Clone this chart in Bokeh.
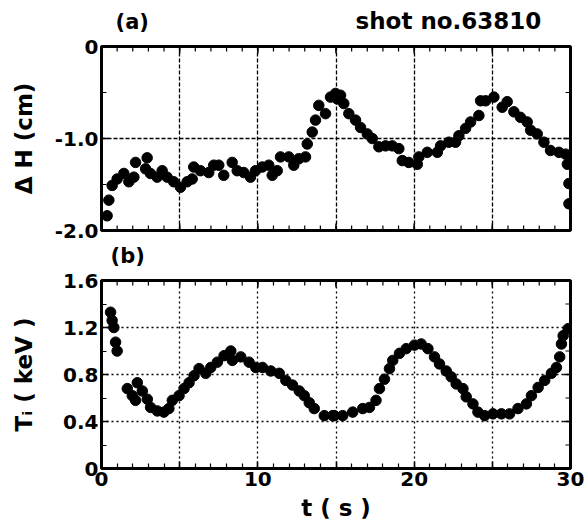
import math
from bokeh.plotting import figure
from bokeh.models import Range1d, FixedTicker, LinearAxis
from bokeh.core.properties import value
from bokeh.layouts import column
from bokeh.embed import file_html
from bokeh.resources import INLINE

# ---- data ----
t_dh = [0.36, 0.47, 0.68, 1.0, 1.43, 1.75, 2.07, 2.18, 2.82, 2.92, 3.13, 3.56, 3.88, 4.2,
        4.62, 5.05, 5.48, 5.8, 5.9, 6.33, 6.86, 7.18, 7.5, 7.82, 8.36, 8.68, 9.1, 9.53,
        9.85, 10.28, 10.7, 10.92, 11.24, 11.45, 11.98, 12.3, 12.62, 13.05, 13.16, 13.48,
        13.69, 13.9, 14.33, 14.65, 14.97, 15.08, 15.29, 15.5, 15.82, 16.25, 16.57, 17.0,
        17.32, 17.74, 18.17, 18.6, 19.02, 19.24, 19.66, 20.2, 20.3, 20.84, 21.48, 21.69,
        22.22, 22.65, 22.86, 23.29, 23.61, 24.14, 24.25, 24.57, 25.1, 25.63, 25.95, 26.38,
        26.8, 27.23, 27.45, 27.87, 28.3, 28.72, 29.26, 29.69, 29.8, 29.9, 29.9]
dh = [-1.84, -1.67, -1.51, -1.44, -1.38, -1.47, -1.42, -1.26, -1.33, -1.21, -1.38, -1.42,
      -1.35, -1.42, -1.47, -1.53, -1.47, -1.44, -1.31, -1.35, -1.37, -1.29, -1.29, -1.40,
      -1.26, -1.35, -1.37, -1.42, -1.35, -1.31, -1.29, -1.40, -1.35, -1.20, -1.20, -1.29,
      -1.22, -1.20, -1.06, -0.93, -0.80, -0.64, -0.73, -0.55, -0.51, -0.57, -0.53, -0.62,
      -0.73, -0.80, -0.88, -0.95, -1.00, -1.09, -1.08, -1.08, -1.11, -1.24, -1.26, -1.28,
      -1.20, -1.15, -1.15, -1.08, -1.04, -1.04, -0.97, -0.89, -0.82, -0.75, -0.59, -0.59,
      -0.55, -0.66, -0.60, -0.71, -0.77, -0.82, -0.91, -0.95, -1.04, -1.13, -1.15, -1.17,
      -1.28, -1.49, -1.71]

t_ti = [0.58, 0.68, 0.79, 0.9, 1.0, 1.65, 1.97, 2.18, 2.29, 2.61, 2.93, 3.14, 3.57, 3.99,
        4.31, 4.53, 4.96, 5.28, 5.6, 5.92, 6.24, 6.67, 6.99, 7.41, 7.84, 8.27, 8.37, 8.91,
        9.44, 9.87, 10.3, 10.83, 11.37, 11.79, 12.22, 12.65, 12.97, 13.29, 13.61, 14.25,
        14.79, 14.9, 15.43, 16.07, 16.71, 17.14, 17.56, 17.78, 18.1, 18.42, 18.63, 19.06,
        19.49, 20.02, 20.45, 20.88, 21.3, 21.62, 22.05, 22.37, 22.69, 23.12, 23.33, 23.76,
        24.08, 24.51, 25.04, 25.58, 26.1, 26.64, 27.18, 27.5, 27.93, 28.35, 28.78, 29.1,
        29.31, 29.42, 29.53, 29.85]
ti = [1.33, 1.26, 1.20, 1.075, 1.0, 0.68, 0.62, 0.58, 0.73, 0.66, 0.59, 0.52, 0.49, 0.48,
      0.51, 0.58, 0.62, 0.68, 0.73, 0.79, 0.85, 0.81, 0.86, 0.905, 0.96, 1.0, 0.92, 0.95,
      0.905, 0.86, 0.86, 0.83, 0.81, 0.75, 0.71, 0.66, 0.62, 0.56, 0.51, 0.45, 0.45, 0.45,
      0.45, 0.48, 0.51, 0.52, 0.58, 0.68, 0.76, 0.85, 0.92, 0.98, 1.02, 1.05, 1.06, 1.02,
      0.95, 0.89, 0.83, 0.78, 0.72, 0.68, 0.61, 0.55, 0.48, 0.45, 0.465, 0.465, 0.465,
      0.51, 0.55, 0.62, 0.69, 0.75, 0.81, 0.86, 0.95, 1.06, 1.13, 1.19]

x_range = (0, 30)
x_ticks = [0, 5, 10, 15, 20, 25, 30]
x_minor = list(range(0, 31))
x_tick_labels = {0: "0", 5: "", 10: "10", 15: "", 20: "20", 25: "", 30: "30"}
x_grid = [5, 10, 15, 20, 25]

dh_range = (-2.0, 0.0)
dh_ticks = [-2.0, -1.0, 0.0]
dh_minor = [-1.5, -0.5]
dh_tick_labels = {-2.0: "-2.0", -1.0: "-1.0", 0.0: "0"}
dh_grid = [-1.0]

ti_range = (0.0, 1.6)
ti_ticks = [0.0, 0.4, 0.8, 1.2, 1.6]
ti_minor = [0.2, 0.6, 1.0, 1.4]
ti_tick_labels = {0.0: "0", 0.4: "0.4", 0.8: "0.8", 1.2: "1.2", 1.6: "1.6"}
ti_grid = [0.4, 0.8, 1.2]

panel_tags = ["(a)", "(b)"]
shot_label = "shot no.63810"

FONT = "DejaVu Sans"
W = 585
LEFT = 101
FRAME_W = 469
RIGHT = W - LEFT - FRAME_W
MAJ_LEN = 7
MIN_LEN = 5


def style_axis(ax):
    ax.axis_line_width = 3
    ax.axis_line_color = "black"
    ax.major_tick_in = MAJ_LEN
    ax.major_tick_out = 0
    ax.minor_tick_in = MIN_LEN
    ax.minor_tick_out = 0
    ax.major_tick_line_width = 1.5
    ax.minor_tick_line_width = 1.2
    ax.major_label_text_font = FONT
    ax.major_label_text_font_style = "bold"
    ax.major_label_text_color = "black"
    ax.major_label_text_font_size = "20px"
    ax.major_label_standoff = 3
    ax.axis_label_text_font = FONT
    ax.axis_label_text_font_style = "bold"
    ax.axis_label_text_font_size = "23px"
    ax.axis_label_text_color = "black"


def header(height, xs, ys, texts, sizes):
    h = figure(width=W, height=height, output_backend="svg", toolbar_location=None,
               x_range=Range1d(*x_range), y_range=Range1d(0, 1),
               x_axis_location=None, y_axis_location=None,
               min_border_left=LEFT, min_border_right=RIGHT,
               min_border_top=0, min_border_bottom=0)
    h.outline_line_color = None
    h.grid.visible = False
    for x, y, t, s in zip(xs, ys, texts, sizes):
        h.text(x=[x], y=[y], text=[t], text_font=value(FONT), text_font_style="bold",
               text_font_size=s, text_baseline="middle", text_align="left",
               text_color="black")
    return h


def edge_ticks(p, positions, fixed, length, width, side):
    """Inward tick marks on the top / right / bottom frame edges."""
    if side == "top":
        p.ray(x=positions, y=[fixed] * len(positions), length=length, length_units="screen",
              angle=-math.pi / 2, line_color="black", line_width=width)
    elif side == "bottom":
        p.ray(x=positions, y=[fixed] * len(positions), length=length, length_units="screen",
              angle=math.pi / 2, line_color="black", line_width=width)
    else:
        p.ray(x=[fixed] * len(positions), y=positions, length=length, length_units="screen",
              angle=math.pi, line_color="black", line_width=width)


def make_panel(height, top, bottom, yr, yt, ym, ylabels, ygrid, ylabel, dash, show_x):
    p = figure(width=W, height=height, output_backend="svg", toolbar_location=None,
               x_range=Range1d(*x_range), y_range=Range1d(*yr),
               x_axis_location=None, y_axis_location=None,
               min_border_left=LEFT, min_border_right=RIGHT,
               min_border_top=top, min_border_bottom=bottom)
    p.outline_line_color = "black"
    p.outline_line_width = 3
    p.background_fill_color = "white"
    p.border_fill_color = "white"

    ytk = FixedTicker(ticks=yt, minor_ticks=ym)
    ly = LinearAxis(ticker=ytk, major_label_overrides=ylabels, axis_label=ylabel)
    style_axis(ly)
    p.add_layout(ly, "left")

    if show_x:
        xt = FixedTicker(ticks=x_ticks, minor_ticks=x_minor)
        bx = LinearAxis(ticker=xt, major_label_overrides=x_tick_labels, axis_label="t ( s )")
        style_axis(bx)
        bx.axis_label_standoff = 6
        p.add_layout(bx, "below")
    else:
        edge_ticks(p, x_minor, yr[0], MIN_LEN, 1.2, "bottom")
        edge_ticks(p, x_ticks, yr[0], MAJ_LEN, 1.5, "bottom")

    edge_ticks(p, x_minor, yr[1], MIN_LEN, 1.2, "top")
    edge_ticks(p, x_ticks, yr[1], MAJ_LEN, 1.5, "top")
    edge_ticks(p, ym, x_range[1], MIN_LEN, 1.2, "right")
    edge_ticks(p, yt, x_range[1], MAJ_LEN, 1.5, "right")

    p.xgrid.ticker = FixedTicker(ticks=x_grid)
    p.ygrid.ticker = FixedTicker(ticks=ygrid)
    for g in (p.xgrid, p.ygrid):
        g.grid_line_color = "black"
        g.grid_line_width = 1.3
        g.grid_line_dash = dash
        g.grid_line_alpha = 1.0
    return p, ly


# header (a): 0..34 px
h1 = header(34, [0.9, 16.25], [0.38, 0.41], [panel_tags[0], shot_label], ["21px", "23px"])

# panel (a): 34..242 px, frame 46..230
p1, ly1 = make_panel(208, 12, 12, dh_range, dh_ticks, dh_minor, dh_tick_labels, dh_grid,
                     "\u0394 H (cm)", "4 2", False)
ly1.axis_label_standoff = 15
p1.scatter(t_dh, dh, size=10.5, color="black")

# header (b): 242..268 px
h2 = header(26, [0.58], [0.50], [panel_tags[1]], ["21px"])

# panel (b): 268..526 px, frame 280..468
p2, ly2 = make_panel(258, 12, 58, ti_range, ti_ticks, ti_minor, ti_tick_labels, ti_grid,
                     "T\u1d62 ( keV )", "2 3", True)
ly2.axis_label_standoff = 23
p2.scatter(t_ti, ti, size=10.5, color="black")

layout = column(h1, p1, h2, p2, spacing=0)
open("out.html", "w").write(file_html(layout, INLINE))
